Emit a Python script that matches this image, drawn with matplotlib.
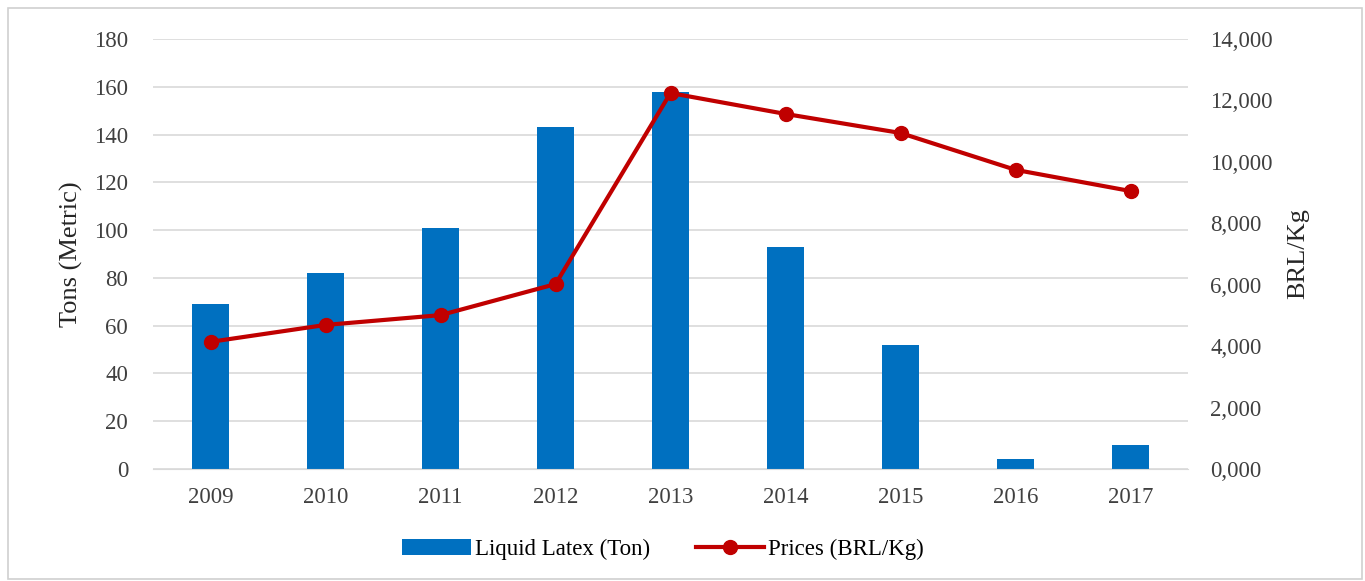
import matplotlib
matplotlib.use("Agg")
import matplotlib.pyplot as plt
from matplotlib.patches import Rectangle
from matplotlib.ticker import FuncFormatter
import numpy as np

years = ["2009", "2010", "2011", "2012", "2013", "2014", "2015", "2016", "2017"]
latex_tons = [69, 82, 101, 143, 158, 93, 52, 4, 10]
prices_brl_kg = [4140, 4690, 5010, 6020, 12240, 11560, 10940, 9740, 9050]

plt.rcParams['font.family'] = ['Liberation Serif', 'DejaVu Serif']
fs = 16.5

fig = plt.figure(figsize=(13.65, 5.81), dpi=100)
ax = fig.add_axes([153/1365, 1 - 469/581, (1188-153)/1365, (469-39)/581])
ax2 = ax.twinx()

x = np.arange(len(years))
bars = ax.bar(x, latex_tons, width=0.32, color='#0070C0', zorder=2, label='Liquid Latex (Ton)')
line, = ax2.plot(x, prices_brl_kg, color='#C00000', lw=3, marker='o', markersize=10,
                 label='Prices (BRL/Kg)', zorder=3)

ax.set_xlim(-0.5, len(years) - 0.5)
ax.set_ylim(0, 180)
ax.set_yticks(np.arange(0, 181, 20))
ax2.set_ylim(0, 14000)
ax2.set_yticks(np.arange(0, 14001, 2000))
ax2.yaxis.set_major_formatter(FuncFormatter(lambda v, p: "0,000" if v == 0 else f"{int(v):,}"))

ax.set_xticks(x)
ax.set_xticklabels(years)
ax.yaxis.grid(True, color='#D9D9D9', lw=1.2, zorder=0)
ax.set_axisbelow(True)

for a in (ax, ax2):
    for s in a.spines.values():
        s.set_visible(False)
    a.tick_params(length=0, labelsize=fs, colors='#404040')
ax.spines['bottom'].set_visible(True)
ax.spines['bottom'].set_color('#D9D9D9')
ax.tick_params(axis='y', pad=18)
ax.tick_params(axis='x', pad=13)
ax2.tick_params(axis='y', pad=16)

ax.set_ylabel('Tons (Metric)', fontsize=19, color='#262626', labelpad=8)
ax2.set_ylabel('BRL/Kg', fontsize=19, color='#262626', labelpad=10)

fig.legend([bars, line], ['Liquid Latex (Ton)', 'Prices (BRL/Kg)'], loc='center',
           bbox_to_anchor=(663/1365, 1 - 549/581), ncol=2, frameon=False, fontsize=fs,
           handlelength=3.0, columnspacing=2.0, handletextpad=0.15)

fig.patches.append(Rectangle((8/1365, 2/581), (1362-8)/1365, (573-2)/581, transform=fig.transFigure,
                             fill=False, edgecolor='#D0D0D0', lw=1.2))

fig.savefig('out.png', dpi=100)
